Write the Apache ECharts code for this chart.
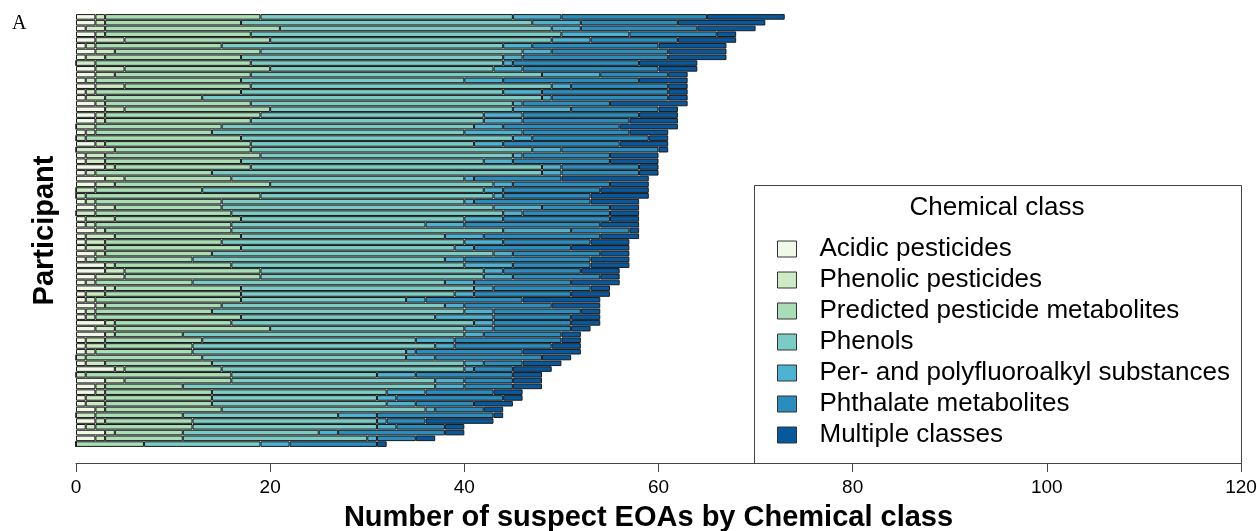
<!DOCTYPE html>
<html>
<head>
<meta charset="utf-8">
<script src="https://cdn.jsdelivr.net/npm/echarts@6/dist/echarts.min.js"></script>
<style>
html,body{margin:0;padding:0;background:#fff;}
#chart{width:1257px;height:531px;}
</style>
</head>
<body>
<div id="chart"></div>
<script>
// Participants, top (largest total) to bottom
const participants = ["1","2","3","4","5","6","7","8","9","10","11","12","13","14","15","16","17","18","19","20","21","22","23","24","25","26","27","28","29","30","31","32","33","34","35","36","37","38","39","40","41","42","43","44","45","46","47","48","49","50","51","52","53","54","55","56","57","58","59","60","61","62","63","64","65","66","67","68","69","70","71","72","73","74","75"];

const seriesNames = ["Acidic pesticides","Phenolic pesticides","Predicted pesticide metabolites","Phenols","Per- and polyfluoroalkyl substances","Phthalate metabolites","Multiple classes"];

const acidicPesticides = [2,2,1,2,2,1,2,1,0,2,2,1,2,1,1,2,3,2,2,0,1,0,2,0,1,1,3,1,3,2,0,0,1,2,0,1,1,2,1,1,1,2,1,3,3,2,1,3,1,1,2,1,1,3,2,3,1,1,1,0,1,4,0,3,2,2,1,1,2,0,2,1,3,2,0];
const phenolicPesticides = [1,1,2,1,3,1,2,2,2,3,2,1,3,1,2,1,2,1,1,2,1,1,1,4,2,2,1,1,2,2,2,1,1,2,2,3,1,1,3,2,2,1,1,1,2,3,1,1,2,1,1,1,1,1,2,1,2,2,1,1,2,1,1,2,1,1,2,2,1,2,1,1,1,1,0];
const predictedMetabolites = [16,14,18,15,15,13,15,14,16,15,14,15,13,15,10,15,15,16,15,13,12,16,15,14,16,14,14,12,11,16,11,18,13,11,14,13,14,13,13,12,14,11,10,12,14,14,10,13,14,15,12,12,15,12,16,7,10,9,10,12,11,10,15,11,8,11,11,11,12,9,9,10,7,8,7];
const phenols = [26,30,28,32,29,29,27,27,26,23,30,23,31,27,35,27,25,23,24,26,26,28,23,29,26,25,30,34,24,23,29,24,25,28,28,23,20,28,21,25,22,29,26,24,23,23,26,24,22,17,23,26,20,25,20,29,22,25,22,21,26,25,15,21,26,18,17,18,21,16,19,19,14,19,12];
const pfas = [5,5,3,7,4,3,3,2,1,3,6,4,2,4,1,1,6,4,4,3,6,2,3,3,1,3,2,2,1,2,2,1,1,5,2,4,4,7,4,4,2,2,2,5,2,3,3,2,2,2,2,3,6,2,3,2,4,2,1,3,2,1,4,3,3,4,2,3,1,4,1,2,2,1,3];
const phthalateMetabolites = [15,10,12,9,9,13,12,15,13,14,7,14,10,13,12,9,9,12,11,12,11,12,12,10,9,10,8,8,9,10,10,9,12,7,9,11,14,6,12,9,10,9,13,8,8,9,10,10,10,10,9,9,8,8,8,8,11,10,11,11,4,4,10,5,5,7,11,6,5,12,4,5,11,4,9];
const multipleClasses = [8,9,6,2,6,7,6,6,6,4,2,5,2,2,2,8,2,4,5,6,4,2,5,1,5,5,2,2,9,4,5,6,5,3,3,3,4,1,4,4,6,3,4,4,4,2,5,2,4,8,5,2,3,3,2,2,2,3,6,3,4,4,3,3,3,3,2,4,2,1,7,2,2,2,1];

const xTicks = {min: 0, max: 120, interval: 20};

const colors = ["#f0f9e8","#ccebc5","#a8ddb5","#7bccc4","#4eb3d3","#2b8cbe","#08589e"];
const allData = [acidicPesticides, phenolicPesticides, predictedMetabolites, phenols, pfas, phthalateMetabolites, multipleClasses];

const chart = echarts.init(document.getElementById('chart'), null, {renderer: 'canvas'});

const series = seriesNames.map((name, i) => ({
  name: name,
  type: 'bar',
  stack: 'total',
  data: allData[i],
  barCategoryGap: '3%',
  itemStyle: {color: colors[i], borderColor: '#1a1a1a', borderWidth: 1},
  emphasis: {disabled: true},
  animation: false
}));

chart.setOption({
  animation: false,
  grid: {left: 76, right: 16, top: 14, bottom: 84, containLabel: false, outerBoundsMode: 'none'},
  xAxis: {
    type: 'value',
    min: xTicks.min, max: xTicks.max, interval: xTicks.interval,
    offset: 16,
    axisLine: {show: true, lineStyle: {color: '#444', width: 1}},
    axisTick: {show: true, length: 9, lineStyle: {color: '#444'}},
    axisLabel: {fontSize: 19, color: '#000', margin: 15, fontFamily: 'Liberation Sans, Arial, sans-serif'},
    splitLine: {show: false},
    name: 'Number of suspect EOAs by Chemical class',
    nameLocation: 'middle',
    nameGap: 40,
    nameTextStyle: {fontSize: 29, fontWeight: 'bold', color: '#000', padding: [0,20,0,0], fontFamily: 'Liberation Sans, Arial, sans-serif'}
  },
  yAxis: {
    type: 'category',
    data: participants,
    inverse: true,
    axisLine: {show: false},
    axisTick: {show: false},
    axisLabel: {show: false},
    name: 'Participant',
    nameLocation: 'middle',
    nameRotate: 90,
    nameGap: 17,
    nameTextStyle: {fontSize: 29, fontWeight: 'bold', color: '#000', fontFamily: 'Liberation Sans, Arial, sans-serif'}
  },
  legend: {
    show: true,
    orient: 'vertical',
    left: 777,
    top: 236,
    padding: 0,
    itemWidth: 19,
    itemHeight: 16,
    itemGap: 5,
    icon: 'rect',
    selectedMode: false,
    data: seriesNames,
    itemStyle: {borderColor: '#333', borderWidth: 1},
    textStyle: {fontSize: 26, lineHeight: 26, color: '#000', padding: [0,0,0,18], fontFamily: 'Liberation Sans, Arial, sans-serif'}
  },
  graphic: [
    {type: 'rect', z: -1, shape: {x: 754.5, y: 185.5, width: 487, height: 278}, style: {fill: '#fff', stroke: '#444', lineWidth: 1}},
    {type: 'text', x: 997, y: 208, style: {text: 'Chemical class', fontSize: 26, fill: '#000', align: 'center', verticalAlign: 'middle', fontFamily: 'Liberation Sans, Arial, sans-serif'}},
    {type: 'text', x: 12, y: 14, style: {text: 'A', fontSize: 20, fill: '#000', fontFamily: 'Liberation Serif, Times New Roman, serif'}}
  ],
  series: series
});
</script>
</body>
</html>
